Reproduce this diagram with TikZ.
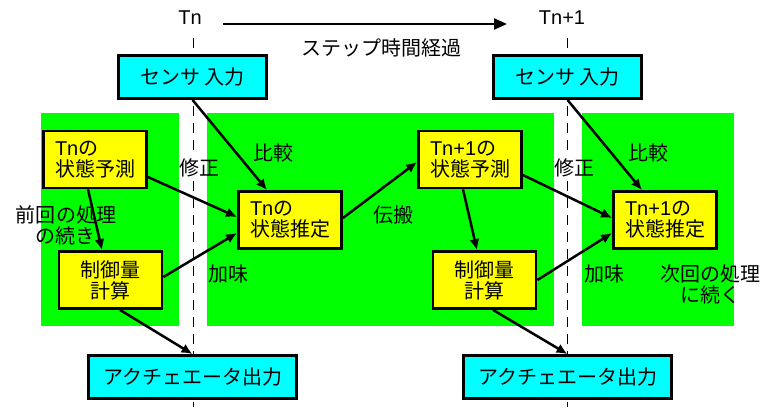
\documentclass[tikz,border=0pt]{standalone}
\usepackage{fontspec}
\setmainfont{Liberation Sans}
\newfontfamily\cjk{Noto Sans CJK JP}
\newcommand\jp[1]{{\cjk #1}}
\usetikzlibrary{arrows.meta,calc}
\definecolor{cyanbox}{HTML}{00FFFF}
\definecolor{yellowbox}{HTML}{FFFF00}
\definecolor{greenbg}{HTML}{00FF00}
\begin{document}
\begin{tikzpicture}[x=1pt,y=-1pt,
  every node/.style={font=\fontsize{20}{21}\selectfont, inner sep=0pt},
  sensorbox/.style={draw=black, line width=2.8pt, fill=cyanbox, minimum width=148pt, minimum height=43pt},
  yelbox/.style={draw=black, line width=2.8pt, fill=yellowbox, minimum width=103pt, minimum height=57pt},
  flow/.style={line width=2.5pt, -{Latex[length=11pt,width=10pt]}},
  timeline/.style={black, line width=1pt, dash pattern=on 10pt off 7pt},
  greenarea/.style={fill=greenbg, draw=none},
  lbl/.style={align=center}
]
\useasboundingbox (0,0) rectangle (762,407);
% green areas
\fill[greenarea] (41,113) rectangle (179,326);
\fill[greenarea] (207,113) rectangle (554,326);
\fill[greenarea] (582,113) rectangle (734,326);
% time labels
\node (tn) at (190,18) {Tn};
\node (tn1) at (562,18) {Tn+1};
\coordinate (tl) at (223,24);
\coordinate (tr) at (507,24);
\draw[line width=2.3pt, -{Triangle[length=13pt,width=11pt]}] (tl) -- (tr);
\node (step) at (381,48) {\jp{ステップ時間経過}};
% dashed time lines
\coordinate (d1a) at (193,38); \coordinate (d1b) at (193,156);
\coordinate (d1c) at (193,181); \coordinate (d1d) at (193,407);
\coordinate (d2a) at (567.5,38); \coordinate (d2b) at (567.5,156);
\coordinate (d2c) at (567.5,181); \coordinate (d2d) at (567.5,407);
\draw[timeline] (d1a) -- (d1b);
\draw[timeline] (d1c) -- (d1d);
\draw[timeline] (d2a) -- (d2b);
\draw[timeline] (d2c) -- (d2d);
% boxes
\node[sensorbox] (s1) at (192.5,77) {\jp{センサ 入力}};
\node[sensorbox] (s2) at (567.5,77) {\jp{センサ 入力}};
\node[sensorbox, minimum width=208pt] (a1) at (192.5,377) {\jp{アクチェエータ出力}};
\node[sensorbox, minimum width=208pt] (a2) at (567.5,377) {\jp{アクチェエータ出力}};
\node[yelbox, align=left] (p1) at (95,159.5) {Tn\jp{の}\\\jp{状態予測}};
\node[yelbox, align=left] (e1) at (290,220) {Tn\jp{の}\\\jp{状態推定}};
\node[yelbox, align=center] (c1) at (110.5,280) {\jp{制御量}\\\jp{計算}};
\node[yelbox, align=left] (p2) at (470,159.5) {Tn+1\jp{の}\\\jp{状態予測}};
\node[yelbox, align=left] (e2) at (665,220) {Tn+1\jp{の}\\\jp{状態推定}};
\node[yelbox, align=center] (c2) at (484.5,280) {\jp{制御量}\\\jp{計算}};
% arrows
\draw[flow] (s1.south) -- ([xshift=-23pt]e1.north);
\draw[flow] (s2.south) -- ([xshift=-23pt]e2.north);
\draw[flow] ([yshift=-17.5pt]p1.east) -- ([yshift=3pt]e1.west);
\draw[flow] ([xshift=-7pt]p1.south) -- ([xshift=-8.5pt]c1.north);
\draw[flow] ([yshift=3pt]c1.east) -- ([yshift=-13pt]e1.west);
\draw[flow] ([yshift=2pt]e1.east) -- ([yshift=-2.5pt]p2.west);
\draw[flow] ([yshift=-15.5pt]p2.east) -- ([yshift=2pt]e2.west);
\draw[flow] ([xshift=-7pt]p2.south) -- ([xshift=-7.5pt]c2.north);
\draw[flow] ([yshift=0pt]c2.east) -- ([yshift=-13pt]e2.west);
\draw[flow] ([xshift=9.5pt]c1.south) -- (a1.north);
\draw[flow] ([xshift=8.5pt]c2.south) -- (a2.north);
% labels
\node (hk1) at (273,153) {\jp{比較}};
\node (hk2) at (648,153) {\jp{比較}};
\node (ss1) at (199,168) {\jp{修正}};
\node (ss2) at (574,168) {\jp{修正}};
\node (dp) at (393,215) {\jp{伝搬}};
\node (km1) at (228,274) {\jp{加味}};
\node (km2) at (604,274) {\jp{加味}};
\node[lbl] (prev) at (66,225) {\jp{前回の処理}\\\jp{の続き}};
\node[lbl] (next) at (710,284) {\jp{次回の処理}\\\jp{に続く}};
\end{tikzpicture}
\end{document}
